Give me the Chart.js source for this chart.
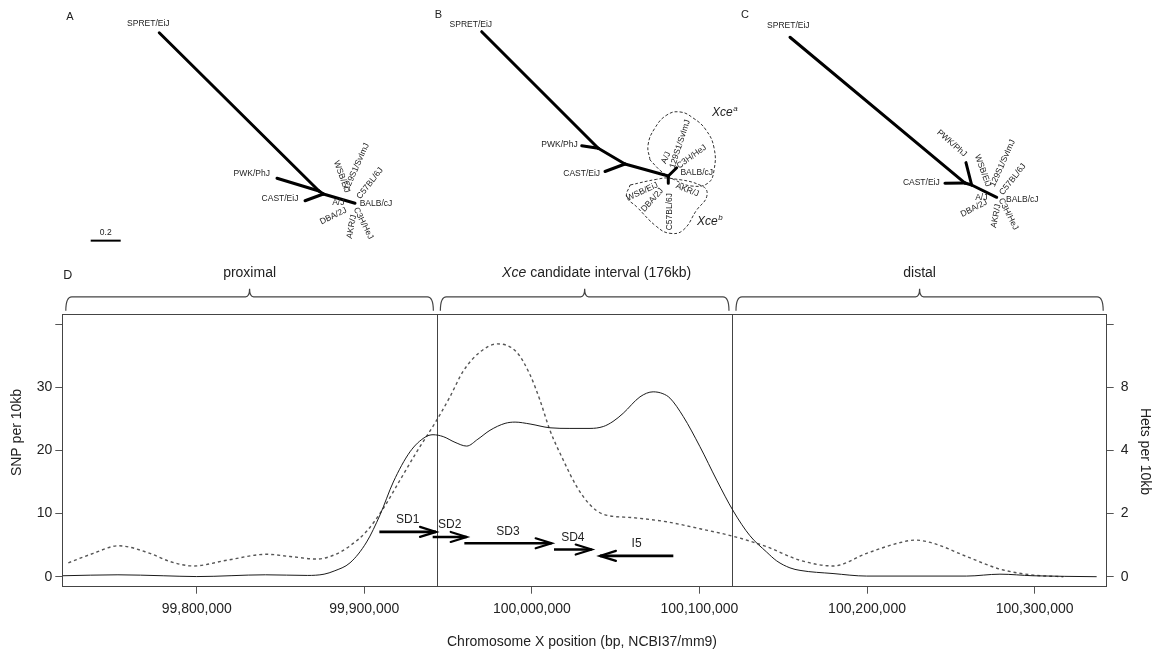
<!DOCTYPE html>
<html>
<head>
<meta charset="utf-8">
<title>Xce candidate interval</title>
<script src="https://cdn.jsdelivr.net/npm/chart.js@4.4.1/dist/chart.umd.min.js"></script>
<style>
  html, body { margin: 0; padding: 0; background: #fff; }
  #page { position: relative; width: 1156px; height: 652px; overflow: hidden; }
  #page canvas { position: absolute; top: 0; }
</style>
</head>
<body>
<div id="page">
  <canvas id="panelD" width="1156" height="652" style="left:0"></canvas>
  <canvas id="treeA" width="380" height="255" style="left:30px"></canvas>
  <canvas id="treeB" width="390" height="255" style="left:380px"></canvas>
  <canvas id="treeC" width="390" height="255" style="left:720px"></canvas>
</div>
<script>
const FONT = '"Liberation Sans", Arial, Helvetica, sans-serif';
Chart.defaults.font.family = FONT;
Chart.defaults.color = '#222';

// ---- panel D: densities along chromosome X ----
const snpPos = [99720000, 99753000, 99780000, 99800000, 99841000, 99866000, 99876000, 99882000, 99891500, 99901400,
  99909400, 99917300, 99927300, 99936200, 99941000, 99947100, 99954100, 99961100, 99967800, 99975000,
  99984000, 99990000, 99998900, 100010800, 100022700, 100034700, 100042600, 100048400, 100054500, 100064500,
  100072400, 100078200, 100082400, 100090300, 100100300, 100110300, 100120200, 100130100, 100140100, 100146100,
  100154000, 100160000, 100179700, 100199800, 100259400, 100279300, 100299000, 100337000];
const snpVals = [0.15, 0.3, 0.15, 0.02, 0.3, 0.2, 0.4, 0.9, 2.2, 5.5,
  9.8, 15, 19.8, 22.1, 22.5, 22.2, 21.3, 20.7, 21.8, 23.2,
  24.3, 24.5, 24.2, 23.6, 23.5, 23.5, 23.8, 24.6, 25.9, 28.5,
  29.3, 29.0, 28.3, 25.4, 20.6, 15.3, 10.4, 6.5, 3.9, 2.5,
  1.4, 1.0, 0.5, 0.1, 0.1, 0.4, 0.15, 0];

const hetPos = [99723400, 99738300, 99753200, 99772100, 99784100, 99798000, 99817900, 99841800, 99855700, 99871600,
  99882500, 99891500, 99901400, 99911300, 99921300, 99931300, 99943200, 99951100, 99959100, 99969000,
  99979400, 99990900, 99998900, 100004800, 100010800, 100018700, 100026700, 100034700, 100042600, 100060500,
  100080400, 100100300, 100120200, 100140100, 100160000, 100179900, 100199800, 100219600, 100228600, 100239500,
  100259400, 100279300, 100299200, 100317100];
const hetVals = [0.44, 0.74, 0.98, 0.74, 0.48, 0.34, 0.52, 0.71, 0.64, 0.56,
  0.70, 0.98, 1.44, 2.16, 3.06, 3.96, 4.96, 5.7, 6.52, 7.12,
  7.38, 7.12, 6.4, 5.6, 4.64, 3.7, 2.86, 2.28, 1.98, 1.87,
  1.74, 1.52, 1.28, 0.95, 0.52, 0.34, 0.74, 1.08, 1.16, 1.06,
  0.64, 0.24, 0.05, 0];

const xTicks = [99800000, 99900000, 100000000, 100100000, 100200000, 100300000];
const snpTicks = [0, 10, 20, 30, 40];
const snpTickLabels = ['0', '10', '20', '30', ''];
const hetTicks = [0, 2, 4, 6, 8];
const hetTickLabels = ['0', '2', '4', '8', ''];

const regionNames = ['proximal', 'Xce candidate interval (176kb)', 'distal'];
const regionBounds = [99719800, 99943300, 100119700, 100343000];

// segmental duplications: name, start, end (bp) and the track level they sit on
const sdNames = ['SD1', 'SD2', 'SD3', 'SD4', 'I5'];
const sdStart = [99909000, 99940800, 99959700, 100013200, 100084400];
const sdEnd = [99942800, 99961100, 100011800, 100035700, 100040600];
const sdTrack = [7.1, 6.3, 5.3, 4.3, 3.3];

// ---- panels A-C: trees, node positions in branch-length units, crown at 0,0 ----
const treeANodes = { SPRET: [-1.305, -1.137], n1: [-0.24, -0.082], PWK: [-0.52, -0.167], n2: [-0.211, -0.062], CAST: [-0.333, -0.017], crown: [0, 0] };
const treeAEdges = [['SPRET', 'n1'], ['PWK', 'n1'], ['n1', 'n2'], ['CAST', 'n2'], ['n2', 'crown']];
const treeBNodes = { SPRET: [-1.244, -0.962], n1: [-0.467, -0.185], PWK: [-0.577, -0.202], n2: [-0.289, -0.08], CAST: [-0.422, -0.03], crown: [0, 0], xa: [0.056, -0.055], xb: [0, 0.049] };
const treeBEdges = [['SPRET', 'n1'], ['PWK', 'n1'], ['n1', 'n2'], ['CAST', 'n2'], ['n2', 'crown'], ['crown', 'xa'], ['crown', 'xb']];
const treeCNodes = { SPRET: [-1.378, -1.067], n1: [-0.211, -0.095], CAST: [-0.345, -0.093], n2: [-0.167, -0.082], PWK: [-0.205, -0.231], crown: [0, 0] };
const treeCEdges = [['SPRET', 'n1'], ['CAST', 'n1'], ['n1', 'n2'], ['PWK', 'n2'], ['n2', 'crown']];
const xceA = [[-0.122, -0.107], [-0.135, -0.207], [-0.089, -0.32], [-0.009, -0.407], [0.078, -0.427], [0.165, -0.387], [0.251, -0.307], [0.305, -0.187], [0.305, -0.04], [0.265, 0.047], [0.158, 0.067], [0.045, 0.027], [-0.042, -0.027]];
const xceB = [[-0.255, 0.06], [-0.077, 0.022], [0.011, 0.015], [0.233, 0.071], [0.256, 0.138], [0.189, 0.227], [0.1, 0.36], [0.011, 0.382], [-0.077, 0.338], [-0.211, 0.205], [-0.277, 0.138]];

// label layout: text, offset from crown (px), rotation (deg)
const labelsA = [['SPRET/EiJ', -206.7, -179.3, 0], ['PWK/PhJ', -103.3, -29.3, 0], ['CAST/EiJ', -75, -5, 0],
  ['WSB/EiJ', -13.3, -26.6, 70], ['129S1/SvImJ', 1.7, -36.6, -66], ['C57BL/6J', 15, -20, -52], ['BALB/cJ', 21, 0, 0],
  ['A/J', -16.7, -0.6, 0], ['DBA/2J', -21.7, 12.7, -26], ['AKR/J', -3.3, 23.4, -79], ['C3H/HeJ', 8.3, 20, 63]];
const labelsB = [['SPRET/EiJ', -197.5, -151, 0], ['PWK/PhJ', -108.8, -31, 0], ['CAST/EiJ', -86.6, -2, 0],
  ['A/J', -2.3, -18.3, -67], ['129S1/SvImJ', 11.7, -32, -72], ['C3H/HeJ', 23.4, -19.3, -36], ['BALB/cJ', 28.4, -3.7, 0],
  ['WSB/EiJ', -26, 15.7, -25], ['DBA/2J', -16, 24, -48], ['C57BL/6J', 1.7, 35.7, -90], ['AKR/J', 19, 14, 21]];
const labelsC = [['SPRET/EiJ', -208.4, -171.3, 0], ['PWK/PhJ', -45, -54, 41], ['CAST/EiJ', -75.4, -14.6, 0],
  ['WSB/EiJ', -14, -26.6, 70], ['129S1/SvImJ', 6, -34, -66], ['C57BL/6J', 16, -18, -52], ['BALB/cJ', 25.6, 2, 0],
  ['A/J', -15.4, 0, 0], ['DBA/2J', -22.7, 11, -27], ['AKR/J', -0.7, 18.7, -79], ['C3H/HeJ', 11.6, 16.7, 63]];

const PX_PER_UNIT = 150; // 0.2 scale bar = 30px

function italicLead(ctx, text, cx, cy, size) {
  // first word "Xce" is italic
  const parts = text.startsWith('Xce') ? [['Xce', true], [text.slice(3), false]] : [[text, false]];
  const widths = parts.map(([t, it]) => { ctx.font = (it ? 'italic ' : '') + size + 'px ' + FONT; return ctx.measureText(t).width; });
  let xx = cx - widths.reduce((s, w) => s + w, 0) / 2;
  ctx.textAlign = 'left';
  parts.forEach(([t, it], i) => {
    ctx.font = (it ? 'italic ' : '') + size + 'px ' + FONT;
    ctx.fillText(t, xx, cy);
    xx += widths[i];
  });
}

function drawBrace(ctx, x1, x2, yb, yt, yp) {
  const m = (x1 + x2) / 2, r = 6, rp = 4;
  ctx.beginPath();
  ctx.moveTo(x1, yb);
  ctx.quadraticCurveTo(x1, yt, x1 + r, yt);
  ctx.lineTo(m - rp, yt);
  ctx.quadraticCurveTo(m, yt, m, yp);
  ctx.quadraticCurveTo(m, yt, m + rp, yt);
  ctx.lineTo(x2 - r, yt);
  ctx.quadraticCurveTo(x2, yt, x2, yb);
  ctx.stroke();
}

const decorPlugin = {
  id: 'decor',
  beforeDatasetsDraw(chart) {
    const { ctx, chartArea: a, scales: { x } } = chart;
    ctx.save();
    ctx.strokeStyle = '#444';
    ctx.lineWidth = 1;
    ctx.strokeRect(Math.round(a.left) + 0.5, Math.round(a.top) + 0.5, Math.round(a.right - a.left), Math.round(a.bottom - a.top));
    regionBounds.slice(1, -1).forEach(b => {
      const px = Math.round(x.getPixelForValue(b)) + 0.5;
      ctx.beginPath(); ctx.moveTo(px, a.top); ctx.lineTo(px, a.bottom); ctx.stroke();
    });
    ctx.restore();
  },
  afterDatasetsDraw(chart) {
    const { ctx, chartArea: a, scales: { x } } = chart;
    ctx.save();
    ctx.textBaseline = 'middle';
    // arrowheads + names
    sdNames.forEach((name, i) => {
      const pts = chart.getDatasetMeta(2 + i).data;
      const p0 = pts[0], p1 = pts[1];
      const dir = Math.sign(p1.x - p0.x);
      ctx.strokeStyle = '#000'; ctx.lineWidth = 2.2; ctx.lineCap = 'round'; ctx.lineJoin = 'miter';
      ctx.beginPath();
      ctx.moveTo(p1.x - dir * 16, p1.y - 5);
      ctx.lineTo(p1.x, p1.y);
      ctx.lineTo(p1.x - dir * 16, p1.y + 5);
      ctx.stroke();
      ctx.fillStyle = '#222'; ctx.font = '12px ' + FONT; ctx.textAlign = 'center';
      ctx.fillText(name, (p0.x + p1.x) / 2, p1.y - 12);
    });
    // braces over the three regions
    const labelDx = [0, 12, 0];
    ctx.strokeStyle = '#444'; ctx.lineWidth = 1.2; ctx.lineCap = 'butt';
    ctx.fillStyle = '#222';
    for (let i = 0; i < regionNames.length; i++) {
      const x1 = x.getPixelForValue(regionBounds[i]) + 3.5;
      const x2 = x.getPixelForValue(regionBounds[i + 1]) - 3.5;
      drawBrace(ctx, x1, x2, a.top - 3.5, a.top - 17.5, a.top - 25.5);
      italicLead(ctx, regionNames[i], (x1 + x2) / 2 + labelDx[i], a.top - 41, 14);
    }
    // axis titles
    ctx.font = '14px ' + FONT; ctx.textAlign = 'center';
    const cy = (a.top + a.bottom) / 2;
    ctx.save(); ctx.translate(16.7, cy - 18); ctx.rotate(-Math.PI / 2); ctx.fillText('SNP per 10kb', 0, 0); ctx.restore();
    ctx.save(); ctx.translate(a.right + 38.5, cy + 1); ctx.rotate(Math.PI / 2); ctx.fillText('Hets per 10kb', 0, 0); ctx.restore();
    ctx.fillText('Chromosome X position (bp, NCBI37/mm9)', 582, a.bottom + 55);
    ctx.font = '12.5px ' + FONT; ctx.textAlign = 'left';
    ctx.fillText('D', a.left + 1, a.top - 38.6);
    ctx.restore();
  }
};

const tickGrid = { drawOnChartArea: false, tickLength: 7, color: '#555', tickColor: '#555', lineWidth: 1 };

new Chart(document.getElementById('panelD'), {
  type: 'scatter',
  data: {
    datasets: [
      { label: 'SNP per 10kb', data: snpPos.map((p, i) => ({ x: p, y: snpVals[i] })), yAxisID: 'ySnp',
        showLine: true, borderColor: '#1a1a1a', borderWidth: 1, pointRadius: 0, cubicInterpolationMode: 'monotone' },
      { label: 'Hets per 10kb', data: hetPos.map((p, i) => ({ x: p, y: hetVals[i] })), yAxisID: 'yHet',
        showLine: true, borderColor: '#555', borderWidth: 1.4, borderDash: [3, 3], pointRadius: 0, cubicInterpolationMode: 'monotone' },
      ...sdNames.map((n, i) => ({ label: n, data: [{ x: sdStart[i], y: sdTrack[i] }, { x: sdEnd[i], y: sdTrack[i] }],
        yAxisID: 'ySnp', showLine: true, borderColor: '#000', borderWidth: 2.6, pointRadius: 0 }))
    ]
  },
  options: {
    responsive: false, animation: false, events: [], devicePixelRatio: 1,
    layout: { padding: { top: 314.3, left: 0, right: 0, bottom: 0 } },
    plugins: { legend: { display: false }, tooltip: { enabled: false } },
    scales: {
      x: {
        type: 'linear', position: 'bottom', min: regionBounds[0], max: regionBounds[regionBounds.length - 1],
        afterBuildTicks: s => { s.ticks = xTicks.map(v => ({ value: v })); },
        afterFit: s => { s.height = 65.3; },
        ticks: { autoSkip: false, maxRotation: 0, padding: 7, font: { size: 14 }, color: '#222',
          callback: v => Number(v).toLocaleString('en-US') },
        grid: tickGrid, border: { display: false }
      },
      ySnp: {
        type: 'linear', position: 'left', min: -1.585, max: 41.585,
        afterBuildTicks: s => { s.ticks = snpTicks.map(v => ({ value: v })); },
        afterFit: s => { s.width = 62.3; },
        ticks: { autoSkip: false, padding: 3, font: { size: 14 }, color: '#222', callback: (v, i) => snpTickLabels[i] },
        grid: tickGrid, border: { display: false }
      },
      yHet: {
        type: 'linear', position: 'right', min: -0.317, max: 8.317,
        afterBuildTicks: s => { s.ticks = hetTicks.map(v => ({ value: v })); },
        afterFit: s => { s.width = 49.3; },
        ticks: { autoSkip: false, padding: 7, font: { size: 14 }, color: '#222', callback: (v, i) => hetTickLabels[i] },
        grid: tickGrid, border: { display: false }
      }
    }
  },
  plugins: [decorPlugin]
});

function treeChart(id, pageLeft, crown, nodes, edges, extra, labels, decorate) {
  const el = document.getElementById(id);
  const xMinU = -(crown[0] - pageLeft) / PX_PER_UNIT;
  const yMinU = -crown[1] / PX_PER_UNIT;
  const sets = edges.map(([p, q]) => ({
    data: [{ x: nodes[p][0], y: nodes[p][1] }, { x: nodes[q][0], y: nodes[q][1] }],
    showLine: true, borderColor: '#000', borderWidth: 3, pointRadius: 0, borderCapStyle: 'round'
  }));
  const textPlugin = {
    id: 'treeText',
    afterDatasetsDraw(chart) {
      const ctx = chart.ctx;
      const cx = chart.scales.x.getPixelForValue(0), cy = chart.scales.y.getPixelForValue(0);
      ctx.save();
      ctx.fillStyle = '#222'; ctx.textAlign = 'center'; ctx.textBaseline = 'middle';
      ctx.font = '8.5px ' + FONT;
      labels.forEach(([t, dx, dy, ang]) => {
        ctx.save(); ctx.translate(cx + dx, cy + dy); ctx.rotate(ang * Math.PI / 180); ctx.fillText(t, 0, 0); ctx.restore();
      });
      decorate(ctx, cx, cy);
      ctx.restore();
    }
  };
  return new Chart(el, {
    type: 'scatter',
    data: { datasets: sets.concat(extra) },
    options: {
      responsive: false, animation: false, events: [], devicePixelRatio: 1,
      layout: { padding: 0 },
      plugins: { legend: { display: false }, tooltip: { enabled: false } },
      scales: {
        x: { type: 'linear', display: false, min: xMinU, max: xMinU + el.width / PX_PER_UNIT },
        y: { type: 'linear', display: false, reverse: true, min: yMinU, max: yMinU + el.height / PX_PER_UNIT }
      }
    },
    plugins: [textPlugin]
  });
}

function letter(ctx, t, x, y) {
  ctx.font = '11px ' + FONT; ctx.textAlign = 'center'; ctx.fillText(t, x, y);
}
function xceLabel(ctx, sup, x, y) {
  ctx.textAlign = 'left';
  ctx.font = 'italic 12px ' + FONT;
  ctx.fillText('Xce', x, y);
  const w = ctx.measureText('Xce').width;
  ctx.font = 'italic 8px ' + FONT;
  ctx.fillText(sup, x + w + 0.5, y - 4);
}
const loopSet = pts => ({
  data: pts.concat([pts[0]]).map(([x, y]) => ({ x, y })),
  showLine: true, borderColor: '#333', borderWidth: 1, borderDash: [3, 2], pointRadius: 0, tension: 0.45
});

treeChart('treeA', 30, [355, 203.3], treeANodes, treeAEdges,
  [{ data: [{ x: -1.762, y: 0.249 }, { x: -1.562, y: 0.249 }], showLine: true, borderColor: '#000', borderWidth: 2, pointRadius: 0 }],
  labelsA,
  (ctx, cx, cy) => {
    letter(ctx, 'A', cx - 285, cy - 186.6);
    ctx.font = '8.5px ' + FONT; ctx.fillText('0.2', cx - 249.3, cy + 29.7);
  });

treeChart('treeB', 380, [668.3, 176], treeBNodes, treeBEdges, [loopSet(xceA), loopSet(xceB)], labelsB,
  (ctx, cx, cy) => {
    letter(ctx, 'B', cx - 230, cy - 161);
    xceLabel(ctx, 'a', cx + 43.7, cy - 63);
    xceLabel(ctx, 'b', cx + 28.7, cy + 46);
  });

treeChart('treeC', 720, [996.7, 197.3], treeCNodes, treeCEdges, [], labelsC,
  (ctx, cx, cy) => {
    letter(ctx, 'C', cx - 251.7, cy - 182.3);
  });
</script>
</body>
</html>
